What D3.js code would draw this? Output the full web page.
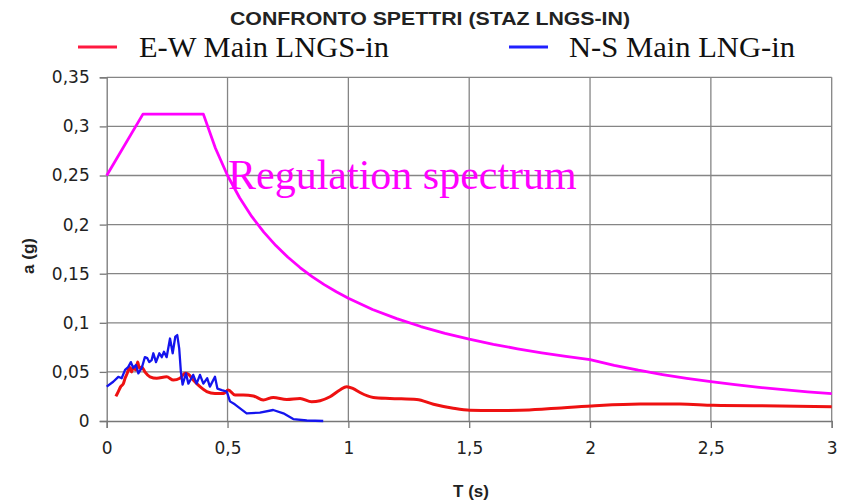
<!DOCTYPE html>
<html>
<head>
<meta charset="utf-8">
<script src="https://cdn.jsdelivr.net/npm/d3@7/dist/d3.min.js"></script>
<style>
  html, body { margin: 0; padding: 0; background: #fff; }
  svg { display: block; }
</style>
</head>
<body>
<script>
// Period axis ticks (s) and acceleration axis ticks (g)
const periodTicks = [0, 0.5, 1, 1.5, 2, 2.5, 3];
const accelTicks = [0, 0.05, 0.1, 0.15, 0.2, 0.25, 0.3, 0.35];

// Regulation (design) spectrum
const regT = [0, 0.15, 0.4, 0.45, 0.5, 0.55, 0.6, 0.65, 0.7, 0.75, 0.8, 0.85, 0.9, 0.95, 1.0,
              1.1, 1.2, 1.3, 1.4, 1.5, 1.6, 1.7, 1.8, 1.9, 2.0,
              2.1, 2.2, 2.3, 2.4, 2.5, 2.6, 2.7, 2.8, 2.9, 3.0];
const regA = [0.25, 0.3125, 0.3125, 0.2778, 0.25, 0.2273, 0.2083, 0.1923, 0.1786, 0.1667, 0.1563, 0.1471, 0.1389, 0.1316, 0.125,
              0.1136, 0.1042, 0.0962, 0.0893, 0.0833, 0.0781, 0.0735, 0.0694, 0.0658, 0.0625,
              0.0567, 0.0517, 0.0473, 0.0434, 0.04, 0.037, 0.0343, 0.0319, 0.0297, 0.0278];

// E-W Main LNGS-in
const ewT = [0.038, 0.048, 0.058, 0.069, 0.076, 0.085, 0.094, 0.103, 0.110, 0.121, 0.128, 0.135, 0.145,
             0.158, 0.179, 0.207, 0.248, 0.276, 0.303, 0.324, 0.338, 0.358, 0.386, 0.414, 0.448, 0.483,
             0.503, 0.531, 0.565, 0.607, 0.648, 0.689, 0.745, 0.800, 0.848, 0.883, 0.924, 0.965, 0.993,
             1.02, 1.048, 1.103, 1.172, 1.283, 1.352, 1.434, 1.503, 1.60, 1.71, 1.80, 1.862, 2.007,
             2.207, 2.372, 2.51, 2.786, 3.0];
const ewA = [0.025, 0.030, 0.035, 0.038, 0.0435, 0.0486, 0.055, 0.050, 0.055, 0.052, 0.060, 0.054, 0.055,
             0.050, 0.045, 0.0435, 0.045, 0.0417, 0.0435, 0.0486, 0.0475, 0.0417, 0.035, 0.030, 0.028, 0.028,
             0.0316, 0.0265, 0.0265, 0.0255, 0.0214, 0.024, 0.022, 0.023, 0.0197, 0.0207, 0.0247, 0.0316, 0.035,
             0.033, 0.029, 0.024, 0.023, 0.022, 0.017, 0.013, 0.011, 0.0107, 0.011, 0.012, 0.013, 0.0153,
             0.0173, 0.0173, 0.016, 0.0153, 0.0146];

// N-S Main LNG-in
const nsT = [0, 0.027, 0.048, 0.062, 0.076, 0.089, 0.100, 0.110, 0.121, 0.131, 0.145, 0.158, 0.168, 0.176,
             0.186, 0.193, 0.204, 0.218, 0.228, 0.237, 0.248, 0.262, 0.273, 0.284, 0.292, 0.300, 0.307,
             0.314, 0.328, 0.338, 0.358, 0.372, 0.386, 0.400, 0.416, 0.427, 0.448, 0.458, 0.476, 0.497,
             0.51, 0.53, 0.579, 0.634, 0.689, 0.731, 0.772, 0.828, 0.896];
const nsA = [0.035, 0.040, 0.045, 0.0435, 0.052, 0.055, 0.060, 0.054, 0.057, 0.0485, 0.054, 0.065, 0.064, 0.060,
             0.062, 0.069, 0.060, 0.069, 0.065, 0.0705, 0.065, 0.084, 0.069, 0.086, 0.0875, 0.074, 0.050,
             0.037, 0.0485, 0.038, 0.047, 0.038, 0.047, 0.038, 0.0435, 0.035, 0.045, 0.033, 0.0315, 0.030,
             0.020, 0.017, 0.0078, 0.0085, 0.0112, 0.0078, 0.002, 0.0005, 0.0];

const W = 848, H = 502;
const svg = d3.select("body").append("svg").attr("width", W).attr("height", H);

const x = d3.scaleLinear().domain([0, 3]).range([106.7, 831.7]);
const y = d3.scaleLinear().domain([0, 0.35]).range([421, 77.3]);
const fmt = v => d3.format("~g")(v).replace(".", ",");

const gridColor = "#858585";

// Grid
const grid = svg.append("g");
grid.selectAll("line.h").data(accelTicks.filter(d => d > 0)).join("line")
  .attr("x1", x(0)).attr("x2", x(3))
  .attr("y1", d => y(d)).attr("y2", d => y(d))
  .attr("stroke", gridColor).attr("stroke-width", 1.3);
grid.selectAll("line.v").data(periodTicks.filter(d => d > 0)).join("line")
  .attr("y1", y(0)).attr("y2", y(0.35))
  .attr("x1", d => x(d)).attr("x2", d => x(d))
  .attr("stroke", gridColor).attr("stroke-width", 1.3);

// Axes
const tickFont = "'DejaVu Sans', sans-serif";
const yAxis = svg.append("g").attr("transform", `translate(${x(0)},0)`)
  .call(d3.axisLeft(y).tickValues(accelTicks).tickFormat(fmt).tickSize(7).tickPadding(10));
const xAxis = svg.append("g").attr("transform", `translate(0,${y(0)})`)
  .call(d3.axisBottom(x).tickValues(periodTicks).tickFormat(fmt).tickSize(7).tickPadding(14));
[yAxis, xAxis].forEach(g => {
  g.select(".domain").attr("stroke", "#777").attr("stroke-width", 1.3);
  g.selectAll(".tick line").attr("stroke", "#777").attr("stroke-width", 1.3);
  g.selectAll(".tick text").attr("font-family", tickFont).attr("font-size", 17).attr("fill", "#222");
});

// Series
const line = d3.line().x(d => x(d[0])).y(d => y(d[1]));
const zip = (a, b) => a.map((v, i) => [v, b[i]]);

svg.append("path").datum(zip(regT, regA))
  .attr("d", line).attr("fill", "none").attr("stroke", "#ff00ff").attr("stroke-width", 2.8)
  .attr("stroke-linejoin", "round");
svg.append("path").datum(zip(ewT, ewA))
  .attr("d", line.curve(d3.curveMonotoneX)).attr("fill", "none").attr("stroke", "#ee1111").attr("stroke-width", 3)
  .attr("stroke-linejoin", "round");
svg.append("path").datum(zip(nsT, nsA))
  .attr("d", line.curve(d3.curveLinear)).attr("fill", "none").attr("stroke", "#1414ee").attr("stroke-width", 2.3)
  .attr("stroke-linejoin", "round");

// Annotation
svg.append("text").attr("x", 228).attr("y", 189)
  .attr("font-family", "'Liberation Serif', 'Times New Roman', serif").attr("font-size", 42)
  .attr("fill", "#ff00ff").text("Regulation spectrum");

// Title
svg.append("text").attr("x", 430).attr("y", 25).attr("text-anchor", "middle")
  .attr("font-family", "'Liberation Sans', Arial, sans-serif").attr("font-weight", "bold")
  .attr("font-size", 18).attr("fill", "#222")
  .attr("textLength", 400).attr("lengthAdjust", "spacingAndGlyphs")
  .text("CONFRONTO SPETTRI (STAZ LNGS-IN)");

// Legend
const legend = [
  { label: "E-W Main LNGS-in", color: "#ff1a40", lx: 78, tx: 139, len: 250 },
  { label: "N-S Main LNG-in", color: "#2020ff", lx: 509, tx: 569, len: 226 }
];
const lg = svg.append("g");
legend.forEach(d => {
  lg.append("line").attr("x1", d.lx).attr("x2", d.lx + 39).attr("y1", 47).attr("y2", 47)
    .attr("stroke", d.color).attr("stroke-width", 3);
  lg.append("text").attr("x", d.tx).attr("y", 57)
    .attr("font-family", "'Liberation Serif', 'Times New Roman', serif").attr("font-size", 30)
    .attr("textLength", d.len).attr("lengthAdjust", "spacingAndGlyphs")
    .attr("fill", "#111").text(d.label);
});

// Axis titles
svg.append("text").attr("transform", `translate(34,256) rotate(-90)`).attr("text-anchor", "middle")
  .attr("font-family", "'Liberation Sans', Arial, sans-serif").attr("font-weight", "bold")
  .attr("font-size", 17).attr("fill", "#222").text("a (g)");
svg.append("text").attr("x", 471).attr("y", 497).attr("text-anchor", "middle")
  .attr("font-family", "'Liberation Sans', Arial, sans-serif").attr("font-weight", "bold")
  .attr("font-size", 17).attr("fill", "#222").text("T (s)");
</script>
</body>
</html>
